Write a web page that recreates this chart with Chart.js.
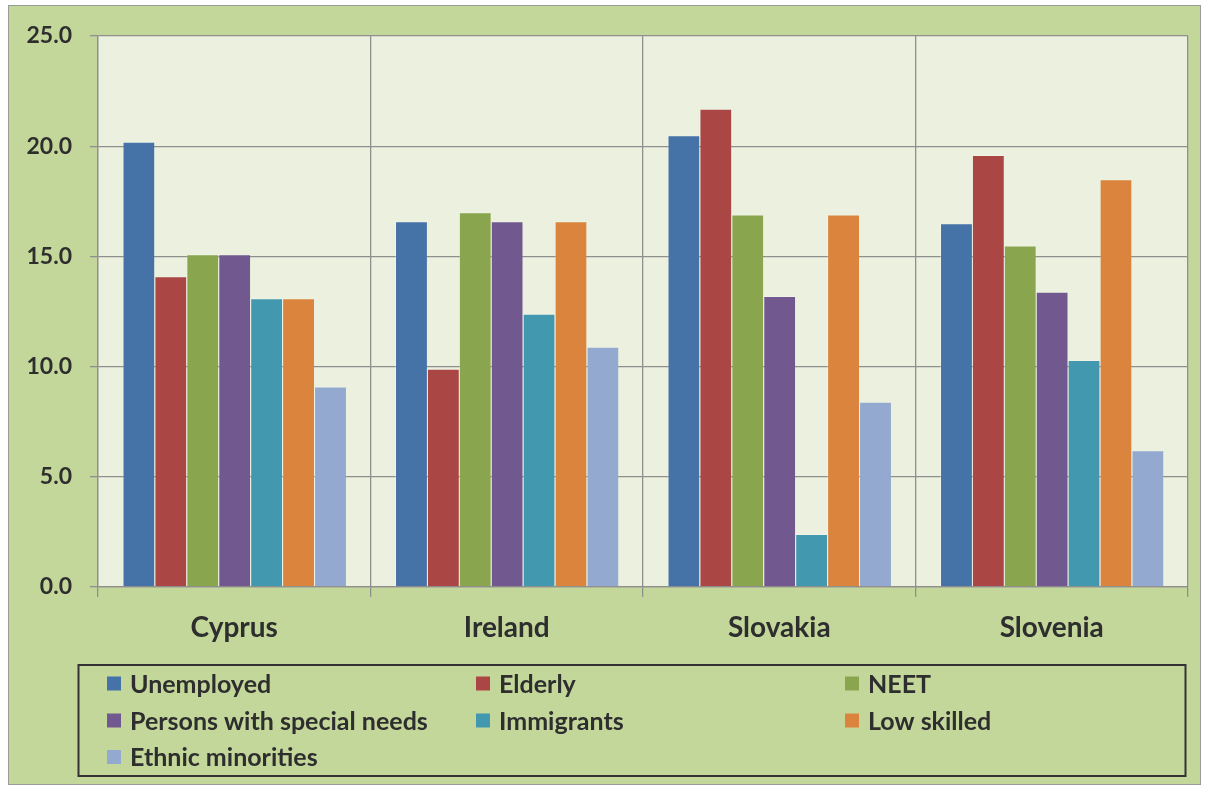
<!DOCTYPE html>
<html>
<head>
<meta charset="utf-8">
<script src="https://cdn.jsdelivr.net/npm/chart.js@4/dist/chart.umd.min.js"></script>
<style>
  html, body { margin: 0; padding: 0; background: #ffffff; }
  #wrap { position: relative; width: 1209px; height: 787px; }
  canvas { display: block; }
</style>
</head>
<body>
<div id="wrap"><canvas id="c" width="1209" height="787"></canvas></div>
<script>
// ---- data ----
const categories = ['Cyprus', 'Ireland', 'Slovakia', 'Slovenia'];
const seriesNames = ['Unemployed', 'Elderly', 'NEET', 'Persons with special needs', 'Immigrants', 'Low skilled', 'Ethnic minorities'];
const unemployed   = [20.2, 16.6, 20.5, 16.5];
const elderly      = [14.1,  9.9, 21.7, 19.6];
const neet         = [15.1, 17.0, 16.9, 15.5];
const specialNeeds = [15.1, 16.6, 13.2, 13.4];
const immigrants   = [13.1, 12.4,  2.4, 10.3];
const lowSkilled   = [13.1, 16.6, 16.9, 18.5];
const ethnic       = [ 9.1, 10.9,  8.4,  6.2];
const yTicks = [0, 5, 10, 15, 20, 25];

// ---- styles ----
const seriesValues = [unemployed, elderly, neet, specialNeeds, immigrants, lowSkilled, ethnic];
const seriesColors = ['#4572a7', '#aa4643', '#89a54e', '#71588f', '#4198af', '#db843d', '#93a9cf'];
const FONT = 'Lato, "Open Sans", sans-serif';
const TEXT = '#2e2e2e';
const GRID = '#8f8f8f';

const bgPlugin = {
  id: 'bg',
  beforeDraw(chart) {
    const ctx = chart.ctx;
    const a = chart.chartArea;
    ctx.save();
    ctx.fillStyle = '#ffffff';
    ctx.fillRect(0, 0, chart.width, chart.height);
    ctx.fillStyle = '#c4d79b';
    ctx.fillRect(8.5, 5.5, 1192, 779);
    ctx.strokeStyle = '#9a9a9a';
    ctx.lineWidth = 1;
    ctx.strokeRect(8.5, 5.5, 1192, 779);
    ctx.fillStyle = '#ebf0df';
    ctx.fillRect(a.left, a.top, a.right - a.left, a.bottom - a.top);
    ctx.restore();
  }
};

const gridLegendPlugin = {
  id: 'gridLegend',
  afterDraw(chart) {
    const ctx = chart.ctx;
    ctx.save();
    ctx.strokeStyle = '#333333';
    ctx.lineWidth = 2;
    ctx.strokeRect(78.5, 665, 1107, 111);
    const colX = [107, 476, 845];
    const rowY = [683.5, 720.5, 757];
    ctx.font = 'bold 25px ' + FONT;
    ctx.textBaseline = 'middle';
    ctx.textAlign = 'left';
    chart.data.datasets.forEach((ds, i) => {
      const cx = colX[i % 3];
      const cy = rowY[Math.floor(i / 3)];
      ctx.fillStyle = ds.backgroundColor;
      ctx.fillRect(cx, cy - 7, 14, 14);
      ctx.fillStyle = TEXT;
      ctx.fillText(ds.label, cx + 23, cy + 1);
    });
    ctx.restore();
  }
};

function build() {
  const datasets = seriesNames.map((name, i) => ({
    label: name,
    data: seriesValues[i],
    backgroundColor: seriesColors[i],
    borderColor: 'rgba(255,255,255,0.25)',
    borderWidth: { top: 1, left: 1, right: 0, bottom: 0 },
    categoryPercentage: 0.82,
    barPercentage: 1.0
  }));

  new Chart(document.getElementById('c'), {
    type: 'bar',
    data: { labels: categories, datasets },
    plugins: [bgPlugin, gridLegendPlugin],
    options: {
      responsive: false,
      animation: false,
      devicePixelRatio: 1,
      layout: { padding: { left: 0, top: 36, right: 21, bottom: 130 } },
      plugins: {
        legend: { display: false },
        tooltip: { enabled: false },
        title: { display: false }
      },
      scales: {
        x: {
          afterFit(s) { s.height = 70; },
          grid: { offset: true, color: GRID, lineWidth: 1.3, tickLength: 10, drawOnChartArea: true },
          border: { display: true, color: GRID, width: 1.3 },
          ticks: { color: TEXT, font: { family: FONT, size: 28, weight: 'bold' }, padding: 14 }
        },
        y: {
          min: 0, max: 25,
          afterFit(s) { s.width = 98; },
          afterBuildTicks(s) { s.ticks = yTicks.map(v => ({ value: v })); },
          grid: { color: GRID, lineWidth: 1.3, tickLength: 8 },
          border: { display: true, color: GRID, width: 1.3 },
          ticks: {
            stepSize: 5,
            color: TEXT,
            padding: 18,
            font: { family: FONT, size: 23, weight: 'bold' },
            callback: v => Number(v).toFixed(1)
          }
        }
      }
    }
  });
}

if (document.fonts && document.fonts.load) {
  Promise.all([document.fonts.load('bold 24px Lato')]).then(build, build);
} else {
  build();
}
</script>
</body>
</html>
